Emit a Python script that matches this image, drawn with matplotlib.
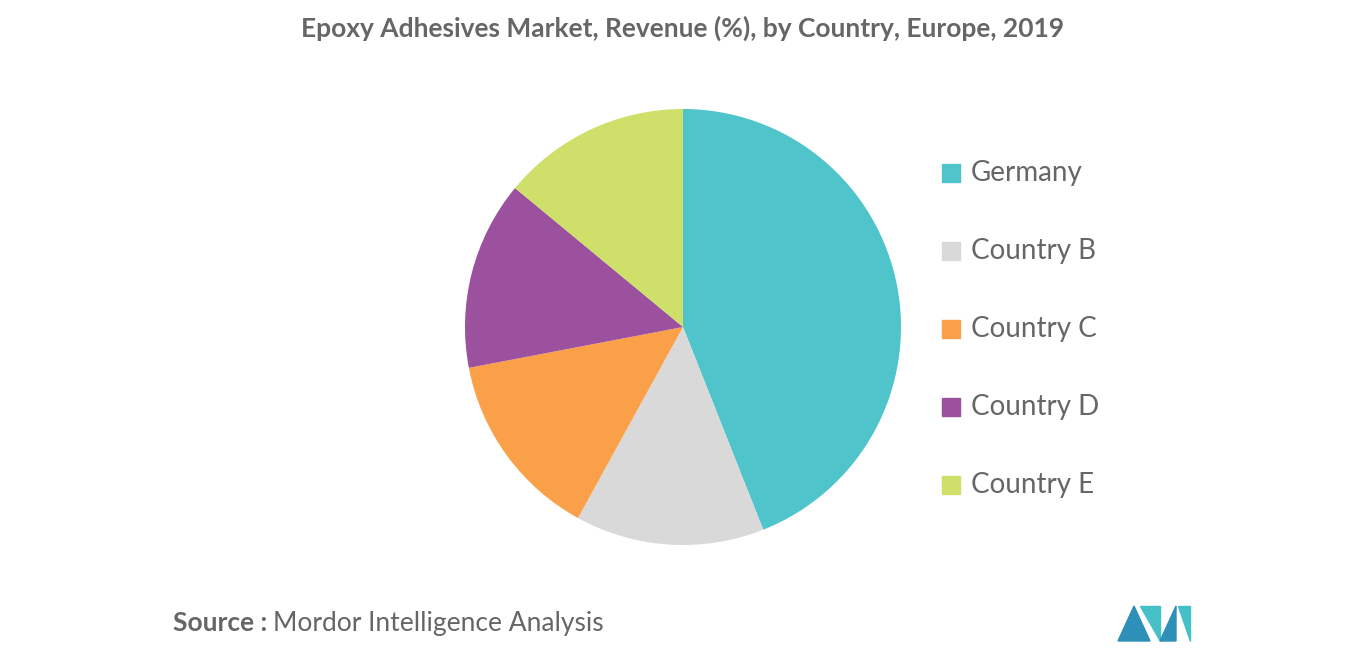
import matplotlib.pyplot as plt
from matplotlib.patches import Polygon

# Data
countries = ['Germany', 'Country B', 'Country C', 'Country D', 'Country E']
shares = [44, 14, 14, 14, 14]
colors = ['#4fc4ca', '#d9d9d9', '#f9a049', '#9b519e', '#cfe06a']

fig = plt.figure(figsize=(13.66, 6.55), dpi=100)
ax = fig.add_axes([0, 0, 1, 1])
ax.set_xlim(0, 1366)
ax.set_ylim(655, 0)
ax.axis('off')

# Pie in its own axes
pax = fig.add_axes([(683 - 218) / 1366, 1 - (327 + 218) / 655, 436 / 1366, 436 / 655])
pax.pie(shares, colors=colors, startangle=90, counterclock=False,
        wedgeprops=dict(linewidth=0), radius=1, frame=False)
pax.set_xlim(-1, 1)
pax.set_ylim(-1, 1)
pax.set_aspect('equal')
pax.axis('off')

fig.text(0.5, 1 - 28 / 655, 'Epoxy Adhesives Market, Revenue (%), by Country, Europe, 2019',
         ha='center', va='center', fontsize=19, fontweight='bold', color='#666666', family='Lato')

# Legend
for i, (name, c) in enumerate(zip(countries, colors)):
    y = 173 + i * 78
    ax.add_patch(plt.Rectangle((942, y - 9), 18, 18, color=c))
    ax.text(971, y, name, va='center', fontsize=20, color='#666666', family='Lato')

ax.text(173, 623, 'Source :', va='center', fontsize=19, fontweight='bold', color='#666666', family='Lato')
ax.text(273, 623, 'Mordor Intelligence Analysis', va='center', fontsize=19, color='#666666', family='Lato')

# Logo
ax.add_patch(Polygon([(1118, 641), (1134, 606), (1150, 641)], color='#2e8fb8'))
ax.add_patch(Polygon([(1140, 606), (1160, 606), (1160, 641)], color='#45c0c6'))
ax.add_patch(Polygon([(1160, 641), (1176, 606), (1176, 641)], color='#2e8fb8'))
ax.add_patch(Polygon([(1178, 606), (1190, 606), (1190, 641)], color='#45c0c6'))

fig.savefig('out.png', dpi=100)
